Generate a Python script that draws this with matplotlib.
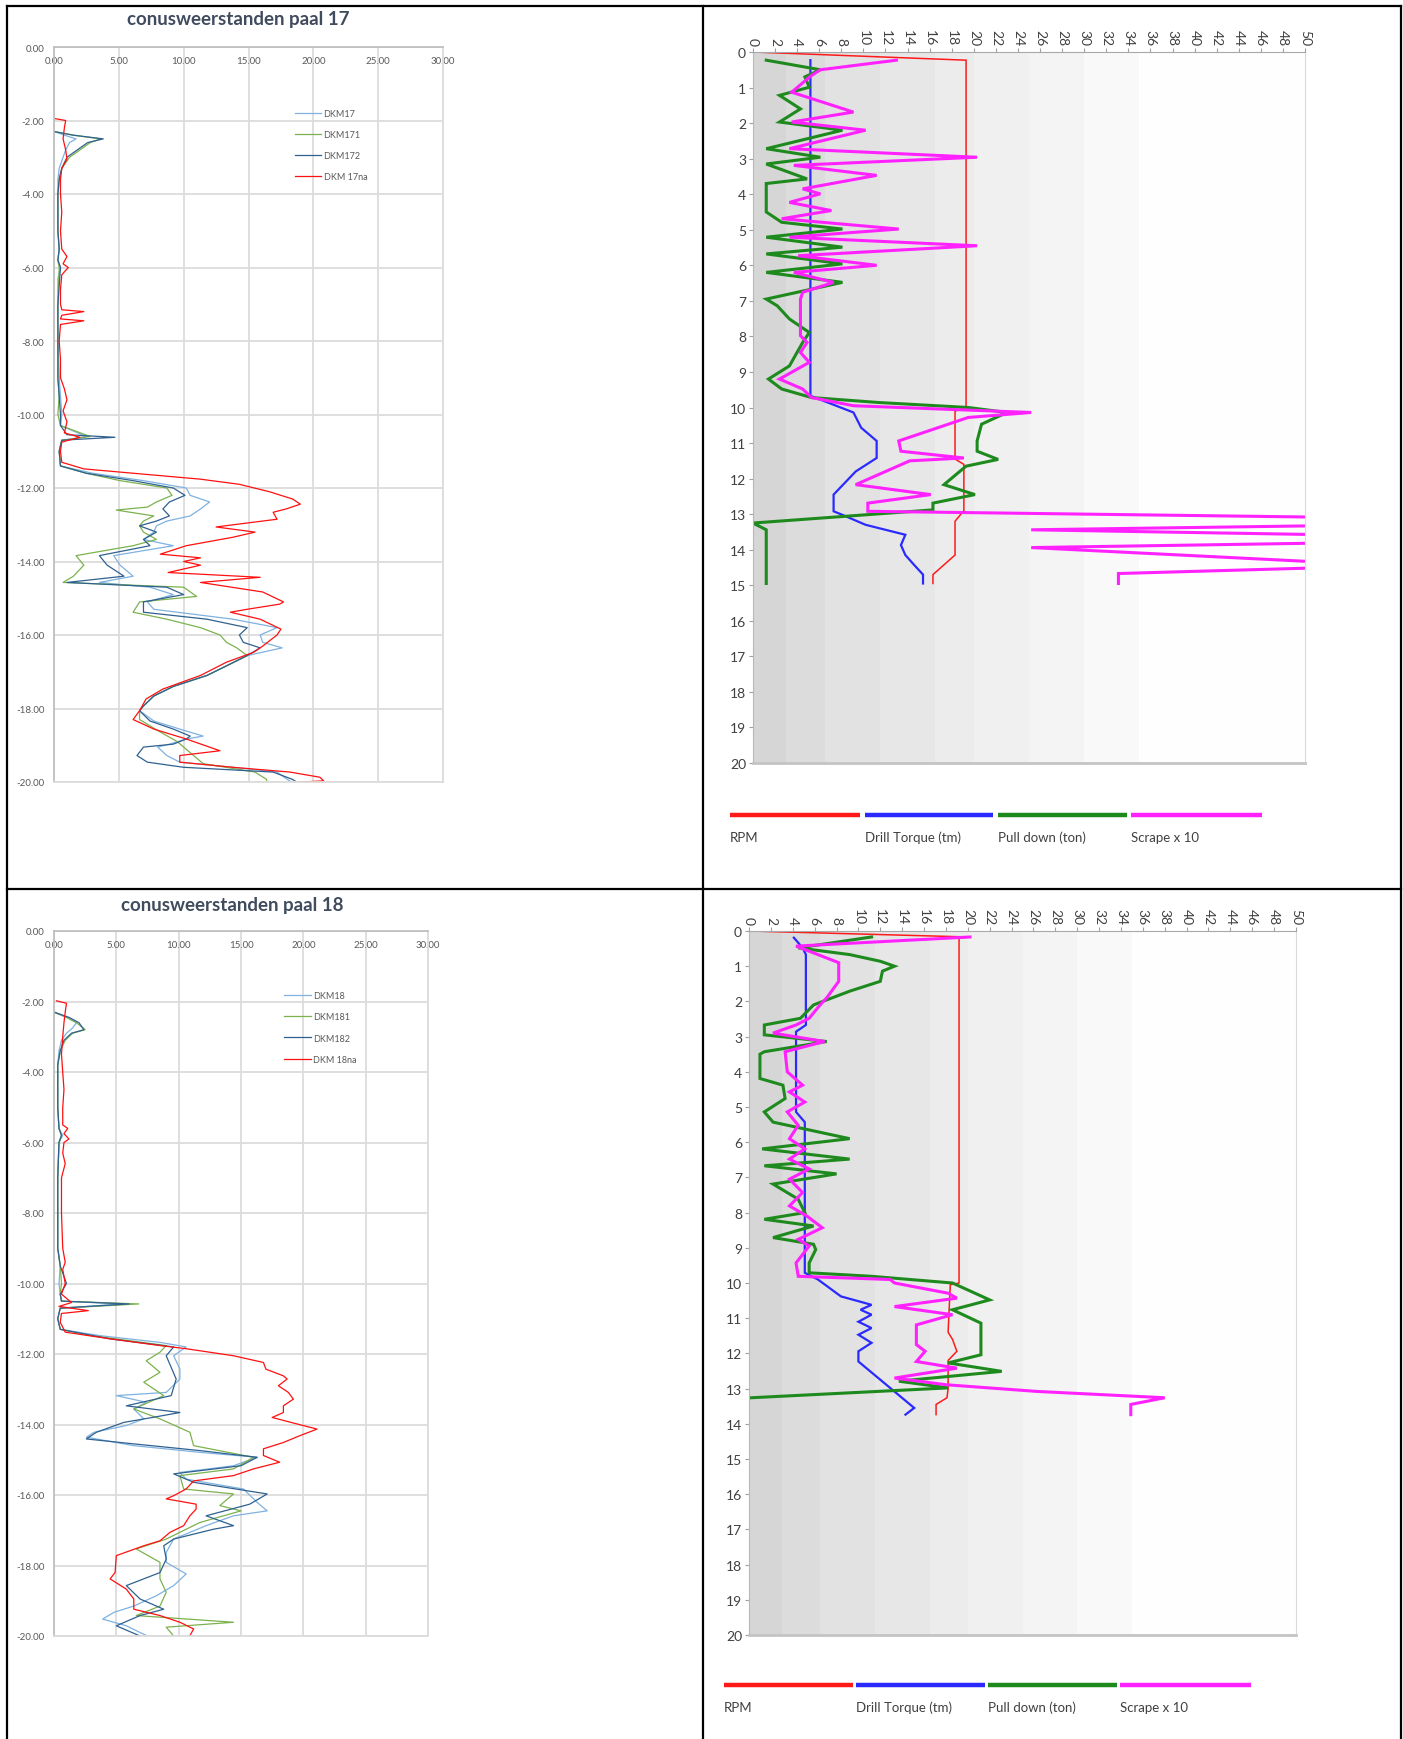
"""Cone resistance (CPT) profiles and drilling logs for piles 17 and 18"""

import numpy as np
import matplotlib.pyplot as plt
from matplotlib.lines import Line2D

plt.rcParams['font.family'] = ['Lato', 'DejaVu Sans']

W, H = 1403, 1740

# ---- CPT data, paal 17 (depth in m, cone resistance in MPa) ----
dkm17_d = [2.3, 2.4, 2.5, 2.6, 2.8, 3.0, 3.3, 3.6, 4.0, 4.5, 5.0, 5.5, 5.8, 6.0, 6.3, 7.0, 8.0, 9.0, 9.5,
           10.0, 10.3, 10.6, 10.7, 11.0, 11.4, 11.6, 11.8, 12.0, 12.2, 12.38, 12.57, 12.76, 12.9, 13.03,
           13.2, 13.4, 13.57, 13.84, 14.1, 14.4, 14.57, 14.7, 14.9, 15.1, 15.3, 15.57, 15.8, 16.0, 16.2,
           16.35, 16.56, 16.84, 17.1, 17.4, 17.66, 17.93, 18.06, 18.34, 18.56, 18.75, 18.83, 18.97, 19.05,
           19.28, 19.46, 19.6, 19.73, 19.93, 20.0]
dkm17_q = [0.0, 0.8, 1.7, 1.2, 0.9, 0.7, 0.4, 0.3, 0.3, 0.3, 0.3, 0.4, 0.3, 0.5, 0.3, 0.3, 0.3, 0.4, 0.5,
           0.6, 0.5, 2.5, 0.6, 0.4, 0.5, 3.0, 6.9, 10.2, 10.5, 12.0, 11.3, 10.5, 8.7, 7.9,
           7.7, 6.9, 9.2, 4.6, 5.1, 6.1, 3.5, 7.4, 9.2, 7.2, 7.7, 13.8, 17.2, 15.9, 16.1,
           17.6, 14.9, 13.3, 11.8, 9.2, 7.7, 6.9, 6.6, 7.7, 9.7, 11.5, 10.2, 8.9, 8.0,
           8.7, 9.7, 13.8, 17.2, 18.0, 18.3]

dkm171_d = [2.3, 2.4, 2.5, 2.6, 2.8, 3.0, 3.3, 3.6, 4.0, 5.0, 5.5, 5.8, 6.0, 7.0, 8.0, 9.0, 9.5, 10.0, 10.3,
            10.6, 10.7, 11.0, 11.4, 11.6, 11.8, 12.0, 12.2, 12.38, 12.52, 12.6, 12.76, 12.9, 13.03, 13.2,
            13.4, 13.57, 13.84, 14.1, 14.4, 14.57, 14.7, 14.95, 15.1, 15.38, 15.57, 15.8, 16.0, 16.2,
            16.35, 16.56, 16.84, 17.1, 17.4, 17.66, 17.93, 18.06, 18.3, 18.6, 18.9, 19.2, 19.5, 19.73,
            19.93, 20.0]
dkm171_q = [0.0, 1.5, 3.6, 2.8, 2.0, 1.2, 0.6, 0.4, 0.3, 0.3, 0.4, 0.3, 0.4, 0.3, 0.3, 0.3, 0.4, 0.3, 0.5,
            2.8, 0.6, 0.4, 0.5, 2.5, 5.1, 8.7, 9.1, 7.9, 7.2, 4.8, 7.7, 6.9, 6.6, 6.9,
            7.9, 6.1, 1.7, 2.3, 1.5, 0.7, 10.0, 11.0, 6.6, 6.1, 8.7, 11.3, 12.8, 13.3,
            14.1, 14.9, 13.3, 11.8, 9.2, 7.7, 6.9, 6.6, 6.6, 8.0, 9.5, 10.5, 11.5, 15.5,
            16.4, 16.4]

dkm172_d = [2.3, 2.4, 2.5, 2.6, 2.8, 3.0, 3.3, 3.6, 4.0, 5.0, 5.5, 5.8, 6.0, 7.0, 8.0, 9.0, 9.5, 10.0, 10.3,
            10.55, 10.62, 10.7, 11.0, 11.4, 11.6, 11.8, 12.0, 12.2, 12.38, 12.57, 12.76, 12.9, 13.03,
            13.2, 13.4, 13.57, 13.84, 14.1, 14.4, 14.57, 14.7, 14.9, 15.1, 15.38, 15.57, 15.8, 16.0,
            16.2, 16.35, 16.56, 16.84, 17.1, 17.4, 17.66, 17.93, 18.06, 18.34, 18.56, 18.75, 18.83,
            18.97, 19.05, 19.28, 19.46, 19.6, 19.73, 19.93, 20.0]
dkm172_q = [0.0, 1.5, 3.8, 2.6, 1.8, 1.0, 0.6, 0.4, 0.3, 0.3, 0.4, 0.3, 0.5, 0.3, 0.3, 0.3, 0.4, 0.5, 0.5,
            1.0, 4.7, 0.6, 0.4, 0.5, 2.5, 6.1, 9.2, 10.1, 8.9, 8.4, 8.9, 7.9, 6.6,
            7.9, 6.9, 7.4, 3.5, 4.1, 5.4, 1.0, 8.7, 10.0, 6.9, 6.9, 11.8, 14.9, 14.3,
            14.6, 15.9, 14.9, 13.3, 11.8, 9.2, 7.7, 6.9, 6.6, 7.4, 9.2, 10.5, 10.2,
            9.2, 6.9, 6.4, 7.2, 10.0, 16.9, 18.4, 18.7]

dkm17na_d = [1.95, 2.0, 2.2, 2.5, 2.8, 3.05, 3.3, 3.6, 4.0, 4.5, 5.0, 5.5, 5.7, 5.9, 6.0, 6.2, 6.6, 7.0,
             7.15, 7.2, 7.3, 7.4, 7.45, 7.55, 8.0, 8.5, 9.0, 9.3, 9.6, 9.9, 10.2, 10.5, 10.62, 10.75,
             11.0, 11.3, 11.48, 11.76, 11.9, 12.1, 12.3, 12.44, 12.57, 12.66, 12.85, 12.93, 13.06,
             13.2, 13.34, 13.57, 13.8, 13.9, 14.0, 14.1, 14.3, 14.43, 14.57, 14.83, 15.1, 15.16,
             15.3, 15.38, 15.57, 15.84, 16.0, 16.3, 16.47, 16.74, 17.1, 17.47, 17.74, 18.06, 18.3,
             18.56, 18.83, 19.15, 19.28, 19.46, 19.6, 19.73, 19.87, 19.97, 20.0]
dkm17na_q = [0.1, 0.9, 0.8, 0.7, 0.9, 1.0, 0.6, 0.5, 0.5, 0.6, 0.5, 0.6, 1.0, 0.7, 1.1, 0.6, 0.5, 0.5,
             0.6, 2.3, 0.6, 0.5, 2.3, 0.5, 0.4, 0.5, 0.5, 0.8, 1.0, 0.7, 1.0, 0.8, 2.0, 0.6,
             0.5, 0.6, 2.3, 11.3, 14.3, 16.6, 18.4, 19.0, 17.9, 16.9, 17.2, 15.4, 12.5,
             15.5, 13.8, 10.2, 8.2, 11.3, 10.0, 11.3, 8.8, 15.9, 11.3, 16.1, 17.7, 17.4,
             14.9, 13.6, 15.9, 17.5, 17.2, 16.1, 15.4, 13.3, 11.3, 8.4, 7.1, 6.6, 6.1,
             7.7, 10.2, 12.8, 9.7, 9.7, 13.8, 18.2, 20.5, 20.8, 19.0]

# ---- CPT data, paal 18 ----
dkm18_d = [2.3, 2.45, 2.6, 2.75, 2.9, 3.1, 3.4, 3.8, 4.5, 5.0, 5.6, 5.8, 6.0, 7.0, 8.0, 9.0, 9.5, 10.0, 10.3,
           10.5, 10.58, 10.7, 11.0, 11.3, 11.48, 11.67, 11.8, 12.05, 12.43, 12.71, 13.09, 13.18, 13.37,
           13.56, 13.84, 14.03, 14.22, 14.36, 14.6, 14.79, 14.93, 15.17, 15.36, 15.55, 15.83, 16.21,
           16.45, 16.59, 16.87, 17.25, 17.63, 17.91, 18.24, 18.57, 18.86, 19.15, 19.33, 19.52, 19.71,
           19.9, 20.0]
dkm18_q = [0.0, 1.0, 1.8, 1.5, 1.0, 0.6, 0.4, 0.3, 0.3, 0.3, 0.4, 0.7, 0.4, 0.3, 0.3, 0.3, 0.5, 0.4, 0.5,
           0.6, 5.5, 0.5, 0.3, 0.5, 3.7, 8.5, 10.6, 9.6, 10.1, 10.1, 9.0, 5.0, 7.4,
           6.4, 7.2, 5.8, 3.2, 2.6, 6.4, 11.7, 16.3, 14.4, 10.1, 10.6, 15.2, 16.3,
           17.1, 14.4, 12.2, 9.6, 9.0, 9.0, 10.6, 9.6, 8.2, 6.4, 4.8, 3.9, 5.8,
           6.9, 7.5]

dkm181_d = [2.3, 2.45, 2.6, 2.8, 2.9, 3.1, 3.4, 3.8, 4.5, 5.0, 5.6, 5.8, 6.0, 7.0, 8.0, 9.0, 9.5, 10.0, 10.3,
            10.5, 10.58, 10.7, 11.0, 11.3, 11.48, 11.76, 11.95, 12.19, 12.52, 12.8, 13.18, 13.56,
            13.84, 14.22, 14.6, 14.93, 15.26, 15.45, 15.83, 15.97, 16.3, 16.45, 16.78, 17.25, 17.53,
            17.91, 18.38, 18.76, 19.15, 19.42, 19.61, 19.75, 20.0]
dkm181_q = [0.0, 1.0, 1.8, 2.5, 1.5, 0.9, 0.5, 0.3, 0.3, 0.3, 0.4, 0.6, 0.4, 0.3, 0.3, 0.3, 0.5, 0.6, 0.5,
            0.6, 6.8, 0.5, 0.3, 0.5, 3.0, 9.0, 8.5, 7.4, 8.5, 7.2, 8.8, 6.4,
            8.5, 10.9, 11.2, 16.0, 14.4, 10.1, 10.4, 14.4, 13.3, 15.0, 11.7, 9.0, 6.6,
            8.5, 8.5, 9.0, 8.5, 6.6, 14.4, 9.0, 9.6]

dkm182_d = [2.3, 2.45, 2.6, 2.8, 2.9, 3.1, 3.4, 3.8, 4.5, 5.0, 5.6, 5.8, 6.0, 7.0, 8.0, 9.0, 9.5, 10.0, 10.3,
            10.5, 10.58, 10.7, 11.0, 11.3, 11.57, 11.8, 12.05, 12.71, 13.18, 13.47, 13.66, 13.8, 13.94,
            14.22, 14.41, 14.55, 14.74, 14.93, 15.17, 15.4, 15.64, 15.97, 16.26, 16.59, 16.87, 16.97,
            17.25, 17.44, 17.82, 18.2, 18.57, 18.95, 19.24, 19.42, 19.71, 20.0]
dkm182_q = [0.0, 1.2, 2.0, 2.4, 1.4, 0.8, 0.5, 0.3, 0.3, 0.3, 0.4, 0.6, 0.4, 0.3, 0.3, 0.3, 0.5, 1.0, 0.5,
            0.6, 6.0, 0.5, 0.3, 0.5, 4.5, 9.6, 9.0, 9.8, 9.4, 5.8, 10.1, 7.9, 5.6,
            3.4, 2.6, 6.4, 11.7, 16.3, 15.0, 9.6, 11.2, 17.1, 15.7, 12.2, 14.4, 12.8,
            9.6, 8.8, 9.0, 8.5, 5.8, 6.9, 8.8, 6.9, 5.0, 6.9]

dkm18na_d = [1.98, 2.05, 2.3, 2.6, 3.0, 3.5, 4.0, 4.5, 5.0, 5.5, 5.6, 5.75, 5.9, 6.0, 6.3, 6.6, 7.0, 8.0,
             9.0, 9.4, 9.6, 10.0, 10.3, 10.54, 10.65, 10.77, 10.85, 11.1, 11.38, 11.57, 11.76, 11.85,
             12.05, 12.24, 12.43, 12.62, 12.71, 12.9, 13.09, 13.28, 13.47, 13.66, 13.8, 13.94, 14.13,
             14.32, 14.51, 14.69, 14.88, 15.07, 15.26, 15.45, 15.6, 15.83, 16.02, 16.11, 16.26, 16.4,
             16.59, 16.87, 17.06, 17.3, 17.44, 17.72, 18.2, 18.38, 18.67, 18.95, 19.24, 19.42, 19.61,
             19.8, 19.99]
dkm18na_q = [0.2, 1.0, 0.9, 0.8, 0.7, 0.6, 0.7, 0.8, 0.7, 0.7, 1.1, 0.8, 1.2, 0.8, 0.7, 0.9, 0.6, 0.6,
             0.7, 0.9, 0.7, 0.9, 0.6, 1.4, 0.4, 2.75, 0.6, 0.5, 0.9, 4.5, 8.5, 10.6,
             14.4, 16.8, 17.0, 18.4, 18.7, 18.0, 18.8, 19.2, 18.4, 18.4, 17.5, 19.0, 21.1,
             19.7, 18.4, 16.8, 16.8, 18.1, 16.0, 14.4, 11.2, 10.6, 9.6, 9.0, 11.4, 11.4,
             10.9, 10.4, 9.3, 8.5, 7.2, 5.0, 4.9, 4.5, 5.8, 6.4, 6.4, 8.5, 10.1,
             11.2, 10.9]

# ---- drilling logs, paal 17 (depth in m) ----
rpm17_d = [0, 0.23, 10.0, 10.1, 11.45, 11.6, 12.9, 13.2, 14.15, 14.7, 14.95]
rpm17_v = [0, 19.3, 19.3, 18.3, 18.3, 19.1, 19.1, 18.3, 18.3, 16.3, 16.3]

torque17_d = [0.23, 9.67, 10.14, 10.57, 10.94, 11.42, 11.8, 12.45, 12.92, 13.02, 13.3, 13.58, 13.87,
              14.15, 14.43, 14.7, 14.95]
torque17_v = [5.2, 5.2, 9.1, 9.8, 11.2, 11.2, 9.3, 7.3, 7.3, 8.1, 10.2, 13.8, 13.4, 13.8, 14.6, 15.4, 15.4]

pull17_d = [0.23, 0.5, 0.7, 0.99, 1.22, 1.6, 1.97, 2.2, 2.72, 2.96, 3.15, 3.57, 3.7, 4.5, 4.79, 4.98,
            5.21, 5.49, 5.68, 5.96, 6.2, 6.48, 6.95, 7.14, 7.51, 7.89, 8.17, 8.83, 9.2, 9.48, 9.72,
            9.86, 10.0, 10.14, 10.47, 10.94, 11.23, 11.46, 11.65, 12.17, 12.45, 12.69, 12.88, 13.25,
            13.44, 14.95]
pull17_v = [1.2, 6.1, 4.7, 5.1, 2.4, 4.3, 2.4, 8.1, 1.2, 6.1, 1.2, 4.9, 1.2, 1.2, 2.6, 8.1,
            1.2, 8.1, 1.2, 8.1, 1.2, 8.1, 1.2, 2.2, 3.3, 5.1, 4.5, 3.3, 1.4, 2.6, 5.3,
            11.4, 19.5, 23.0, 20.7, 20.3, 20.3, 22.2, 19.3, 17.3, 20.1, 16.3, 16.3, 0.0,
            1.2, 1.2]

scrape17_d = [0.23, 0.5, 0.66, 1.13, 1.69, 1.97, 2.2, 2.72, 2.96, 3.19, 3.47, 3.85, 3.99, 4.23, 4.46,
              4.69, 4.98, 5.21, 5.45, 5.73, 6.0, 6.2, 6.48, 6.76, 6.95, 7.98, 8.17, 8.45, 8.73, 9.2,
              9.48, 9.72, 9.95, 10.14, 10.28, 10.94, 11.23, 11.42, 11.5, 12.17, 12.45, 12.69, 12.92,
              13.2, 13.44, 13.7, 13.94, 14.45, 14.67, 14.95]
scrape17_v = [13.0, 6.1, 5.3, 3.5, 9.1, 3.5, 10.2, 3.3, 20.3, 3.7, 11.2, 4.5, 6.1, 3.3, 7.1,
              2.6, 13.2, 3.3, 20.3, 4.1, 11.2, 3.7, 7.3, 4.5, 4.3, 4.3, 4.9, 4.3, 5.1, 2.4,
              4.5, 5.3, 9.1, 25.2, 19.5, 13.2, 13.4, 19.1, 14.2, 9.3, 16.1, 10.4, 10.4,
              80.0, 25.2, 75.0, 25.2, 58.0, 33.1, 33.1]

# ---- drilling logs, paal 18 ----
rpm18_d = [0, 0.17, 0.2, 10.0, 10.05, 11.4, 11.6, 11.94, 12.2, 13.0, 13.26, 13.45, 13.74]
rpm18_v = [0, 20.1, 19.2, 19.2, 18.4, 18.2, 18.6, 19.0, 18.2, 18.2, 18.1, 17.1, 17.1]

torque18_d = [0.19, 0.48, 0.67, 2.67, 2.86, 5.14, 5.43, 9.71, 9.9, 10.38, 10.62, 10.76, 10.9, 11.1,
              11.28, 11.47, 11.7, 11.94, 12.23, 13.55, 13.74]
torque18_v = [4.1, 4.9, 5.2, 5.2, 4.3, 4.3, 5.1, 5.1, 6.3, 8.4, 11.2, 10.2, 11.2, 10.0,
              11.2, 10.0, 11.2, 10.0, 10.0, 15.1, 14.3]

pull18_d = [0.17, 0.48, 0.67, 0.86, 1.0, 1.14, 1.43, 1.71, 2.1, 2.48, 2.67, 2.95, 3.14, 3.43, 3.5, 4.19,
            4.38, 4.76, 5.14, 5.43, 5.9, 6.19, 6.48, 6.67, 6.9, 7.19, 7.62, 8.0, 8.19, 8.38, 8.71,
            8.9, 9.05, 9.43, 9.71, 9.81, 10.0, 10.48, 10.76, 11.14, 12.04, 12.27, 12.51, 12.79,
            12.98, 13.26]
pull18_v = [11.2, 4.5, 9.2, 12.0, 13.3, 12.2, 12.0, 9.2, 5.9, 4.7, 1.4, 1.4, 7.1, 1.4, 1.0, 1.0,
            3.1, 3.3, 1.4, 2.2, 9.2, 1.2, 9.2, 1.4, 8.0, 2.2, 4.5, 5.1, 1.4, 5.9, 2.2,
            5.9, 6.1, 5.5, 5.5, 11.2, 18.6, 22.0, 18.6, 21.2, 21.2, 18.2, 23.1, 13.7,
            18.2, 0.2]

scrape18_d = [0.17, 0.43, 0.67, 0.9, 1.43, 1.9, 2.1, 2.48, 2.67, 2.9, 3.14, 3.43, 4.0, 4.38, 4.57,
              4.86, 5.14, 5.52, 5.9, 6.19, 6.48, 6.76, 7.05, 7.43, 7.81, 8.1, 8.43, 8.76, 8.95,
              9.43, 9.81, 9.9, 10.0, 10.29, 10.43, 10.67, 10.9, 11.19, 11.75, 11.94, 12.23, 12.42,
              12.7, 12.89, 13.08, 13.26, 13.45, 13.74]
scrape18_v = [20.2, 4.3, 6.3, 8.2, 8.2, 7.1, 6.5, 5.5, 4.3, 2.2, 6.9, 3.3, 3.5, 4.9, 3.7,
              5.1, 3.5, 4.5, 3.7, 5.1, 3.7, 5.5, 3.7, 4.9, 3.7, 5.3, 6.7, 4.5, 5.5,
              4.3, 4.5, 12.9, 13.3, 18.2, 19.0, 13.3, 18.6, 15.3, 15.3, 16.1, 15.3, 19.0,
              13.3, 18.0, 26.3, 38.0, 34.9, 34.9]

drill_labels = ['RPM', 'Drill Torque (tm)', 'Pull down (ton)', 'Scrape x 10']
drill_colors = ['#ff1a1a', '#2a2aff', '#1e8a1e', '#ff22ff']
drill_widths = [1.1, 1.6, 2.2, 2.2]

cpt_colors = ['#7fb2e0', '#7cb24e', '#2f6190', '#ff1010']

# grey bands behind the drilling logs: (start, end, grey level)
bands = [(0, 3, '#d6d6d6'), (3, 6.5, '#dcdcdc'), (6.5, 11.5, '#e2e2e2'), (11.5, 16.5, '#e7e7e7'),
         (16.5, 20, '#ececec'), (20, 25, '#f0f0f0'), (25, 30, '#f4f4f4'), (30, 35, '#f9f9f9'),
         (35, 50, '#fefefe')]


def box(left, top, right, bottom):
    return [left / W, 1 - bottom / H, (right - left) / W, (bottom - top) / H]


def plot_cpt(rect, title, title_xy, series, legend_anchor):
    """CPT panel: cone resistance against (negative) depth"""
    ax = fig.add_axes(box(*rect))
    for (name, d, q), c in zip(series, cpt_colors):
        ax.plot(q, -np.array(d), color=c, lw=0.9, label=name)
    ax.set_xlim(0, 30)
    ax.set_ylim(-20, 0)
    xt = np.arange(0, 31, 5)
    ax.set_xticks(xt)
    ax.set_xticklabels(['%.2f' % v for v in xt])
    yt = np.arange(-20, 1, 2)
    ax.set_yticks(yt)
    ax.set_yticklabels(['%.2f' % v for v in yt])
    ax.xaxis.tick_top()
    ax.tick_params(axis='x', length=0, pad=-13, labelsize=7, labelcolor='#595959')
    ax.tick_params(axis='y', length=0, pad=7, labelsize=7, labelcolor='#595959')
    ax.grid(color='#dcdcdc', lw=1.3)
    ax.set_axisbelow(True)
    for side in ['top', 'left']:
        ax.spines[side].set_color('#bcbcbc')
        ax.spines[side].set_linewidth(1.2)
    for side in ['right', 'bottom']:
        ax.spines[side].set_color('#dcdcdc')
        ax.spines[side].set_linewidth(1.3)
    ax.legend(loc='upper left', bbox_to_anchor=legend_anchor, frameon=False, fontsize=6.5,
              handlelength=2.9, handletextpad=0.3, labelspacing=1.35, borderpad=0,
              labelcolor='#595959')
    fig.text(title_xy[0] / W, 1 - title_xy[1] / H, title, ha='center', va='center',
             fontsize=13.5, fontweight='bold', color='#404c5e')
    return ax


def plot_drill(rect, series, legend_y, legend_x):
    """Drilling log panel with the four machine parameters against depth"""
    ax = fig.add_axes(box(*rect))
    for x0, x1, grey in bands:
        ax.axvspan(x0, x1, color=grey, lw=0, zorder=0)
    for (d, v), c, lw in zip(series, drill_colors, drill_widths):
        ax.plot(v, d, color=c, lw=lw, solid_joinstyle='miter')
    ax.set_xlim(0, 50)
    ax.set_ylim(20, 0)
    ax.set_xticks(np.arange(0, 51, 2))
    ax.set_yticks(np.arange(0, 21, 1))
    ax.xaxis.tick_top()
    ax.tick_params(axis='x', labelrotation=270, labelsize=10, pad=2, length=3,
                   color='#a0a0a0', labelcolor='#404040')
    ax.tick_params(axis='y', labelsize=10, pad=2, length=3, color='#a0a0a0', labelcolor='#404040')
    ax.spines['top'].set_color('#a8a8a8')
    ax.spines['left'].set_color('#b8b8b8')
    ax.spines['right'].set_color('#dadada')
    ax.spines['bottom'].set_color('#c4c4c4')
    ax.spines['bottom'].set_linewidth(2)

    # legend: coloured bars with the names below them
    for (x0, x1), label, c in zip(legend_x, drill_labels, drill_colors):
        fig.add_artist(Line2D([x0 / W, x1 / W], [1 - legend_y / H] * 2, color=c, lw=3.2,
                              transform=fig.transFigure, solid_capstyle='butt'))
        fig.text(x0 / W, 1 - (legend_y + 22) / H, label, ha='left', va='center',
                 fontsize=9.5, color='#404040')
    return ax


fig = plt.figure(figsize=(W / 100, H / 100), dpi=100)

plot_cpt((54, 48, 443, 783), 'conusweerstanden paal 17', (238, 20),
         [('DKM17', dkm17_d, dkm17_q), ('DKM171', dkm171_d, dkm171_q),
          ('DKM172', dkm172_d, dkm172_q), ('DKM 17na', dkm17na_d, dkm17na_q)],
         (0.607, 0.922))
plot_cpt((54, 932, 428, 1637), 'conusweerstanden paal 18', (232, 906),
         [('DKM18', dkm18_d, dkm18_q), ('DKM181', dkm181_d, dkm181_q),
          ('DKM182', dkm182_d, dkm182_q), ('DKM 18na', dkm18na_d, dkm18na_q)],
         (0.604, 0.921))

plot_drill((753, 53, 1305, 764),
           [(rpm17_d, rpm17_v), (torque17_d, torque17_v), (pull17_d, pull17_v), (scrape17_d, scrape17_v)],
           816, [(730, 860), (865, 993), (998, 1127), (1131, 1262)])
plot_drill((749, 932, 1296, 1636),
           [(rpm18_d, rpm18_v), (torque18_d, torque18_v), (pull18_d, pull18_v), (scrape18_d, scrape18_v)],
           1686, [(724, 853), (856, 985), (988, 1117), (1120, 1251)])

# table grid around the four cells
for xs, ys in [((7, 1401), (7, 7)), ((7, 1401), (890, 890)), ((7, 7), (7, 1740)),
               ((703, 703), (7, 1740)), ((1401, 1401), (7, 1740))]:
    fig.add_artist(Line2D([x / W for x in xs], [1 - y / H for y in ys], color='black', lw=1.6,
                          transform=fig.transFigure))

plt.savefig('out.png', dpi=100)
